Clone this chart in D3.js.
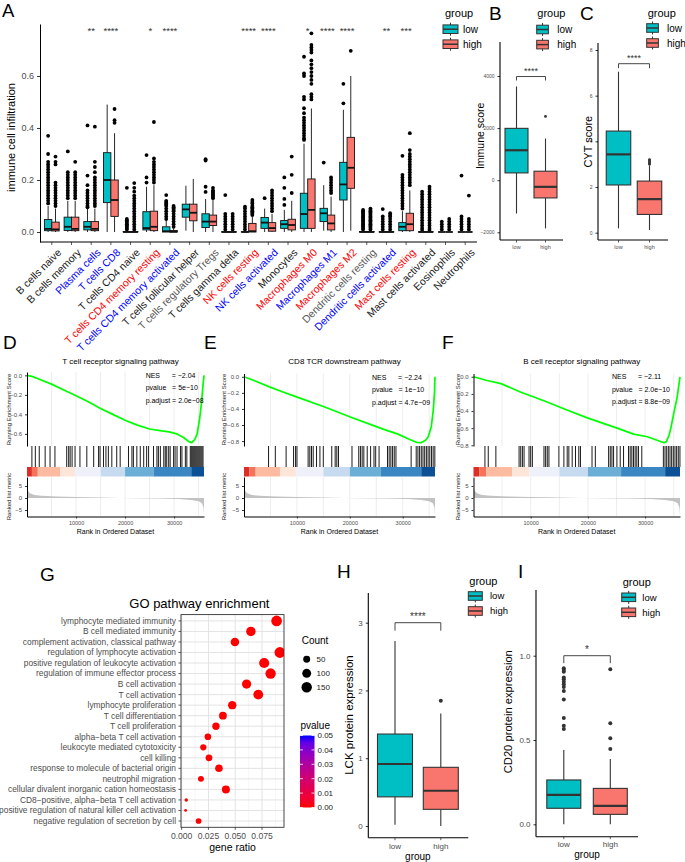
<!DOCTYPE html>
<html><head><meta charset="utf-8">
<script src="https://cdn.jsdelivr.net/npm/d3@7"></script>
<style>body{margin:0;background:#fff}svg{display:block}</style>
</head><body><div id="chart"></div>
<script>
// ---------------- DATA ----------------
const groupNames = ["low", "high"];
const cellTypes = ["B cells naive","B cells memory","Plasma cells","T cells CD8","T cells CD4 naive","T cells CD4 memory resting","T cells CD4 memory activated","T cells follicular helper","T cells regulatory Tregs","T cells gamma delta","NK cells resting","NK cells activated","Monocytes","Macrophages M0","Macrophages M1","Macrophages M2","Dendritic cells resting","Dendritic cells activated","Mast cells resting","Mast cells activated","Eosinophils","Neutrophils"];
const cellHighlight = ["none","none","blue","blue","none","red","blue","none","gray","none","red","blue","none","red","blue","red","gray","blue","red","none","none","none"];
const sigA = ["","","**","****","","*","****","","","","****","****","","*","****","****","","**","***","","",""];
const infTicks = [0, 0.2, 0.4, 0.6];
// [whiskerLow, q1, median, q3, whiskerHigh]
const lowStats = [
[0,0.005,0.012,0.048,0.10],[0,0.006,0.02,0.057,0.12],[0,0.008,0.02,0.04,0.09],[0,0.113,0.2,0.305,0.49],
[0,0,0,0.002,0.004],[0,0.008,0.015,0.078,0.174],[0,0,0.003,0.02,0.045],[0.005,0.057,0.087,0.107,0.178],
[0,0.017,0.04,0.07,0.127],[0,0,0,0.001,0.002],[0,0,0,0.001,0.002],[0,0.014,0.036,0.056,0.09],
[0,0.014,0.03,0.044,0.085],[0,0.014,0.069,0.149,0.34],[0.005,0.04,0.072,0.091,0.18],[0,0.123,0.183,0.268,0.47],
[0,0,0,0.002,0.004],[0,0,0,0.001,0.002],[0,0.005,0.02,0.036,0.08],[0,0,0,0.001,0.002],[0,0,0,0,0],[0,0,0,0,0]];
const highStats = [
[0,0.004,0.01,0.038,0.09],[0,0.005,0.012,0.057,0.12],[0,0.005,0.012,0.04,0.09],[0,0.06,0.123,0.2,0.38],
[0,0,0,0.002,0.004],[0,0.005,0.02,0.08,0.18],[0,0,0.001,0.006,0.014],[0,0.043,0.074,0.107,0.204],
[0,0.025,0.04,0.065,0.123],[0,0,0,0.001,0.002],[0,0,0.003,0.033,0.06],[0,0.003,0.015,0.036,0.07],
[0,0.008,0.027,0.049,0.12],[0,0.014,0.085,0.204,0.475],[0,0.008,0.033,0.065,0.136],[0.005,0.168,0.247,0.364,0.6],
[0,0,0,0.002,0.004],[0,0,0,0.001,0.002],[0,0.005,0.03,0.072,0.16],[0,0,0,0.001,0.002],[0,0,0,0,0],[0,0,0,0,0]];
const lowOut = [
[0.37,0.30,0.27,0.26,0.25,0.24,0.23,0.22,0.21,0.20,0.19,0.18,0.17,0.16,0.15,0.14,0.13,0.12,0.11],
[0.31,0.23,0.22,0.21,0.20,0.19,0.18,0.17,0.16,0.15,0.14,0.13],
[0.41,0.217,0.18,0.16,0.15,0.14,0.13,0.12,0.11,0.10,0.095],
[],
[0.17,0.05,0.045,0.04,0.035,0.03,0.025,0.02,0.015,0.01],
[0.296,0.21,0.19],
[0.142,0.12,0.115,0.11,0.105,0.10,0.09,0.08,0.07,0.06,0.05],
[],
[0.28,0.275,0.174,0.154],
[0.142,0.07,0.06,0.05,0.04,0.03,0.02,0.01],
[0.097,0.09,0.08,0.07,0.06,0.05,0.04,0.03,0.02,0.01],
[0.13],
[0.21,0.17,0.127,0.104],
[0.674,0.61,0.60,0.52,0.51,0.476,0.457,0.44,0.43,0.42,0.41,0.40,0.39,0.38,0.37,0.36,0.354],
[0.267],
[0.57,0.495],
[0.085,0.08,0.075,0.07,0.065,0.06,0.055,0.05,0.045,0.04,0.035,0.03,0.025,0.02,0.015,0.01],
[0.088,0.06,0.05,0.04,0.03,0.02,0.01],
[0.293,0.22,0.21,0.20,0.19,0.18,0.17,0.16,0.15,0.14,0.13,0.12,0.11,0.10,0.09],
[0.155,0.145,0.135,0.125,0.115,0.105,0.095,0.085,0.075,0.065,0.055,0.045,0.035,0.025,0.015,0.008],
[0.04,0.03,0.02,0.01],
[0.217,0.06,0.05,0.04,0.03,0.02,0.01]];
const highOut = [
[0.29,0.27,0.26,0.19,0.18,0.17,0.16,0.15,0.14,0.13,0.12,0.11,0.10],
[0.27,0.23,0.22,0.21,0.20,0.19,0.18,0.17,0.16,0.15,0.14,0.13],
[0.405,0.27,0.25,0.23,0.21,0.20,0.19,0.18,0.17,0.16,0.15,0.14,0.13,0.12,0.11,0.10],
[0.473,0.43,0.42],
[0.188,0.17,0.155,0.14,0.13,0.12,0.11,0.10,0.09,0.08,0.07,0.06,0.05,0.04,0.03,0.02,0.01],
[0.423,0.283,0.27,0.26,0.25,0.24,0.23,0.22,0.21,0.20,0.19],
[0.10,0.095,0.09,0.085,0.08,0.07,0.06,0.05,0.04,0.03,0.02],
[],
[0.17,0.16,0.155,0.15,0.145,0.14,0.135,0.13],
[0.07,0.06,0.05,0.04,0.03,0.02,0.01],
[0.123,0.115,0.11,0.10,0.095,0.09,0.085,0.08,0.075,0.07,0.065],
[0.16,0.15,0.14,0.13,0.12,0.11,0.10,0.09,0.08],
[0.29,0.22,0.15],
[0.764,0.72,0.71,0.70,0.69,0.66,0.645,0.63,0.615,0.60,0.585,0.57,0.53,0.52,0.51],
[0.21,0.20,0.19,0.18,0.17,0.16,0.15],
[0.697],
[0.09,0.085,0.08,0.075,0.07,0.065,0.06,0.055,0.05,0.045,0.04,0.035,0.03,0.025,0.02,0.015,0.01],
[0.072,0.065,0.06,0.05,0.04,0.03,0.02,0.01],
[0.38,0.315,0.30,0.29,0.28,0.27,0.26,0.25,0.24,0.23,0.22,0.21,0.20,0.19,0.18],
[0.174,0.165,0.155,0.145,0.135,0.125,0.115,0.105,0.095,0.085,0.075,0.065,0.055,0.045,0.035,0.025,0.015,0.008],
[0.05,0.04,0.03,0.02,0.01],
[0.14,0.05,0.04,0.03,0.02,0.01]];

// Panel B (Immune score) and C (CYT score)
const immuneTicks = [-2000, 0, 2000, 4000];
const immuneLow = [-1280, 280, 1150, 1990, 3600];
const immuneHigh = [-1850, -680, -255, 345, 1600];
const immuneLowOut = [];
const immuneHighOut = [2450];
const cytTicks = [0, 2, 4, 6, 8];
const cytLow = [0.19, 2.09, 3.43, 4.45, 7.05];
const cytHigh = [0.12, 0.8, 1.47, 2.26, 2.95];
const cytLowOut = [];
const cytHighOut = [3.0, 3.05, 3.1, 3.15, 3.2];

// GSEA panels
const gseaGrid = [5000,10000,15000,20000,25000,30000,35000];
const rankTicks = [10000, 20000, 30000];
const metricTicks = [5, 0, -5];
const esD = [[0,0],[1000,-0.01],[2500,-0.04],[5000,-0.09],[7500,-0.15],[10000,-0.21],[12500,-0.27],[15000,-0.34],[17500,-0.4],[20000,-0.46],[22500,-0.51],[25000,-0.55],[27500,-0.57],[29000,-0.58],[30500,-0.6],[32000,-0.64],[33000,-0.68],[33600,-0.69],[34200,-0.66],[34700,-0.6],[35200,-0.45],[35600,-0.28],[35900,-0.1],[36100,0]];
const esE = [[0,0],[2000,-0.05],[4800,-0.125],[7000,-0.18],[9900,-0.25],[15000,-0.37],[20100,-0.5],[25000,-0.62],[27100,-0.67],[29000,-0.71],[31000,-0.77],[32600,-0.815],[33500,-0.82],[34300,-0.79],[34800,-0.75],[35400,-0.62],[35800,-0.4],[36000,-0.2],[36100,0]];
const esF = [[0,0],[2200,-0.04],[4800,-0.08],[8300,-0.18],[12300,-0.28],[16000,-0.38],[19900,-0.48],[25100,-0.6],[28000,-0.67],[30400,-0.7],[33300,-0.77],[33700,-0.76],[34200,-0.68],[34500,-0.6],[35000,-0.43],[35600,-0.24],[36100,0]];
const hitsD = [1000,1700,2500,3700,4700,5700,8100,8500,8800,9200,9800,10800,12200,13600,14600,14900,15600,16100,16600,17300,18300,19000,20700,21400,21700,22400,23100,23800,24400,24800,25800,26500,26800,27200,27900,28200,28500,28900,29200,29900,30200,30600,31300,31600,32300,32600,33300,33500,33700,33900,34100,34300,34500,34700,34900,35100,35300,35500,35700,35900];
const hitsE = [4640,5920,7960,9370,9750,10010,12120,12440,12760,13080,13710,14350,14990,16590,17230,17540,17860,20410,21690,22010,22330,22650,23290,23930,24570,24890,25530,27120,27440,27760,28080,28400,28720,31590,32550,32870,33190,33510,33830,34150,34470,34790,35110,35430,35750,36070];
const hitsF = [2000,2580,3910,7970,8260,8550,8840,9710,10000,10290,12320,12610,12900,13190,14930,15800,16380,16670,17250,17830,18410,18700,20720,21300,23620,23910,24200,24490,25070,25650,26230,27100,27390,27680,27970,28260,28550,28840,29420,33190,33480,33770,34060,34350,34640,34930,35220,35510,35800,36090];
const metricPts = [[0,4.5],[200,3],[600,2],[1500,1.3],[3000,0.9],[6000,0.6],[10000,0.4],[15000,0.2],[19000,0.05],[22000,-0.05],[27000,-0.2],[31000,-0.45],[33500,-0.8],[35000,-1.3],[35700,-2.2],[36000,-4],[36100,-7]];
const bandBreaks = [0,1000,2200,6800,9800,15000,20000,25800,33500,36100];
const bandColors = ["#de2d26","#f4735a","#fcbba1","#fee5d9","#eef1fa","#c6dbef","#6baed6","#3a86c2","#0b4f94"];
const nesD = ["−2.04","5e−10","2.0e−08"];
const nesE = ["−2.24","1e−10","4.7e−09"];
const nesF = ["−2.11","2.0e−10","8.8e−09"];

// GO enrichment
const goTerms = ["lymphocyte mediated immunity","B cell mediated immunity","complement activation, classical pathway","regulation of lymphocyte activation","positive regulation of leukocyte activation","regulation of immune effector process","B cell activation","T cell activation","lymphocyte proliferation","T cell differentiation","T cell proliferation","alpha−beta T cell activation","leukocyte mediated cytotoxicity","cell killing","response to molecule of bacterial origin","neutrophil migration","cellular divalent inorganic cation homeostasis","CD8−positive, alpha−beta T cell activation","positive regulation of natural killer cell activation","negative regulation of secretion by cell"];
const goRatio = [0.0886,0.0646,0.0497,0.0917,0.0770,0.0830,0.0606,0.0715,0.0472,0.0385,0.0320,0.0245,0.0202,0.0255,0.0348,0.0180,0.0413,0.0043,0.0037,0.0158];
const goCount = [160,116,90,165,139,150,109,129,85,69,58,44,36,46,63,32,74,8,7,28];
const goPvalue = [1e-30,1e-25,1e-22,1e-28,1e-24,1e-26,1e-21,1e-23,1e-18,1e-15,1e-14,1e-12,1e-11,1e-12,1e-13,1e-10,1e-12,1e-6,1e-6,1e-8];
const goXTicks = [0, 0.025, 0.05, 0.075];
const goXMinor = [0.0125, 0.0375, 0.0625, 0.0875];
const countBreaks = [50, 100, 150];
const pvalueBreaks = [0.05, 0.04, 0.03, 0.02, 0.01, 0.00];

// Panel H (LCK) and I (CD20)
const lckTicks = [0, 1, 2, 3];
const lckLow = [0.02, 0.43, 0.915, 1.357, 2.73];
const lckHigh = [0, 0.246, 0.52, 0.866, 1.66];
const lckLowOut = [];
const lckHighOut = [1.85];
const cd20Ticks = [0, 0.5, 1.0];
const cd20Low = [0, 0.095, 0.174, 0.263, 0.44];
const cd20High = [0, 0.059, 0.109, 0.213, 0.387];
const cd20LowOut = [0.925,0.915,0.905,0.87,0.86,0.845,0.83,0.815,0.79,0.74,0.63,0.585,0.565];
const cd20HighOut = [0.92, 0.60, 0.51, 0.447];

// ---------------- DRAWING ----------------
const W = 685, H = 862;
const FONT = '"Liberation Sans", Arial, Helvetica, sans-serif';
const LOW = "#00BFC4", HIGH = "#F8766D";
const svg = d3.select("#chart").append("svg").attr("width", W).attr("height", H)
  .style("font-family", FONT);
svg.append("rect").attr("width", W).attr("height", H).attr("fill", "#fff");

function txt(g, x, y, s, o = {}) {
  const t = g.append("text").attr("x", x).attr("y", y).text(s)
    .attr("font-size", o.fs || 10).attr("fill", o.fill || "#000")
    .attr("text-anchor", o.anchor || "start");
  if (o.dy) t.attr("dy", o.dy);
  if (o.rot !== undefined) t.attr("transform", `rotate(${o.rot},${x},${y})`);
  return t;
}
function line(g, x1, y1, x2, y2, stroke, sw) {
  return g.append("line").attr("x1", x1).attr("y1", y1).attr("x2", x2).attr("y2", y2)
    .attr("stroke", stroke || "#000").attr("stroke-width", sw || 1);
}
function styleAxis(a, fs, fill, domainStroke, tickStroke, dsw) {
  a.attr("font-family", FONT).attr("font-size", fs);
  a.select(".domain").attr("stroke", domainStroke || "#000").attr("stroke-width", dsw || 1);
  a.selectAll(".tick line").attr("stroke", tickStroke || "#333");
  a.selectAll(".tick text").attr("fill", fill || "#4d4d4d");
}
function drawBox(g, xc, w, s, outs, y, fill, o) {
  const [wlo, q1, med, q3, whi] = s;
  g.selectAll(null).data(outs).enter().append("circle")
    .attr("cx", xc).attr("cy", d => y(d)).attr("r", o.r).attr("fill", o.dot);
  line(g, xc, y(whi), xc, y(q3), o.stroke, o.sw);
  line(g, xc, y(q1), xc, y(wlo), o.stroke, o.sw);
  g.append("rect").attr("x", xc - w / 2).attr("y", y(q3)).attr("width", w)
    .attr("height", Math.max(0, y(q1) - y(q3))).attr("fill", fill)
    .attr("stroke", o.stroke).attr("stroke-width", o.sw);
  line(g, xc - w / 2, y(med), xc + w / 2, y(med), o.stroke, o.msw);
}
function groupLegend(tx, ty, kx, kw, cys, lx, fsT, fsL) {
  txt(svg, tx, ty, "group", { fs: fsT });
  [LOW, HIGH].forEach((c, i) => {
    const cy = cys[i];
    line(svg, kx + kw / 2, cy - 6.5, kx + kw / 2, cy + 6.5, "#333", 1);
    svg.append("rect").attr("x", kx).attr("y", cy - 4.3).attr("width", kw).attr("height", 8.6)
      .attr("fill", c).attr("stroke", "#333").attr("stroke-width", 1);
    line(svg, kx, cy, kx + kw, cy, "#333", 1.5);
    txt(svg, lx, cy, groupNames[i], { fs: fsL, dy: "0.35em" });
  });
}
function letter(t, x, y) { txt(svg, x, y, t, { fs: 19 }); }

// ===== Panel A =====
txt(svg, 2, 17, "A", { fs: 18.5 });
const yA = d3.scaleLinear().domain([-0.0385, 0.8]).range([242, 24]);
const xA = d3.scaleBand().domain(cellTypes).range([40, 477]).paddingOuter(0.1);
const gA = svg.append("g");
const bwA = xA.step() * 0.375;
const hlColor = { none: "#1a1a1a", blue: "#0000ff", red: "#ff0000", gray: "#595959" };
cellTypes.forEach((c, i) => {
  const xc = xA(c) + xA.bandwidth() / 2;
  const st = { stroke: "#111", sw: 0.9, msw: 1.8, r: 1.9, dot: "#000" };
  drawBox(gA, xc - bwA / 2, bwA, lowStats[i], lowOut[i], yA, LOW, st);
  drawBox(gA, xc + bwA / 2, bwA, highStats[i], highOut[i], yA, HIGH, st);
  if (sigA[i]) txt(gA, xc, 34, sigA[i], { fs: 9.5, anchor: "middle", fill: "#333" });
  line(gA, xc, 242, xc, 245, "#333", 0.8);
  gA.append("text").attr("transform", `translate(${xc + 5},${248}) rotate(-45)`)
    .attr("text-anchor", "end").attr("dy", "0.7em").attr("font-size", 10.5)
    .attr("fill", hlColor[cellHighlight[i]]).text(c);
});
const ayA = gA.append("g").attr("transform", "translate(40,0)")
  .call(d3.axisLeft(yA).tickValues(infTicks).tickFormat(d3.format(".1f")).tickSize(3).tickSizeOuter(0));
styleAxis(ayA, 9, "#4d4d4d");
line(gA, 40, 242, 477, 242, "#000", 1);
txt(gA, 11.5, 137.5, "immune cell infiltration", { fs: 11, anchor: "middle", rot: -90, dy: "0.35em" });
groupLegend(445, 17.2, 443, 15, [29.2, 44.2], 463, 11, 10);

// ===== Panel B =====
letter("B", 489, 20);
function smallBox(cfg) {
  const g = svg.append("g");
  const y = d3.scaleLinear().domain(cfg.dom).range(cfg.rng);
  const x = d3.scalePoint().domain(groupNames).range([cfg.c0, cfg.c1]);
  const st = { stroke: "#333", sw: cfg.sw || 1, msw: cfg.msw || 2, r: cfg.r, dot: "#333" };
  drawBox(g, x("low"), cfg.bw, cfg.low, cfg.lowOut, y, LOW, st);
  drawBox(g, x("high"), cfg.bw, cfg.high, cfg.highOut, y, HIGH, st);
  const ay = g.append("g").attr("transform", `translate(${cfg.ax},0)`)
    .call(d3.axisLeft(y).tickValues(cfg.ticks).tickFormat(cfg.fmt).tickSize(2.5).tickSizeOuter(0));
  styleAxis(ay, cfg.tfs, "#4d4d4d", "#000", "#333", 1.1);
  ay.select(".domain").remove();
  line(g, cfg.ax, cfg.top, cfg.ax, cfg.bottom, "#000", 1.1);
  line(g, cfg.ax, cfg.bottom, cfg.right, cfg.bottom, "#000", 1.1);
  groupNames.forEach(n => {
    line(g, x(n), cfg.bottom, x(n), cfg.bottom + 2.5, "#333", 0.8);
    txt(g, x(n), cfg.xly, n, { fs: cfg.xfs, anchor: "middle", fill: "#4d4d4d" });
  });
  const yb = y(cfg.br);
  g.append("path").attr("d", `M${x("low")},${yb + cfg.drop}V${yb}H${x("high")}V${yb + cfg.drop}`)
    .attr("fill", "none").attr("stroke", "#333").attr("stroke-width", 0.9);
  txt(g, (x("low") + x("high")) / 2, yb - 2.5, cfg.sig, { fs: cfg.sfs, anchor: "middle", fill: "#333" });
  txt(g, cfg.ylx, cfg.yly, cfg.ylab, { fs: cfg.yfs, anchor: "middle", rot: -90, dy: "0.35em" });
  if (cfg.xtitle) txt(g, (x("low") + x("high")) / 2, cfg.xty, cfg.xtitle, { fs: cfg.xtfs, anchor: "middle" });
  return g;
}
smallBox({ dom: [-2000, 4000], rng: [232.3, 76], c0: 516.5, c1: 545.5, bw: 23, low: immuneLow, high: immuneHigh,
  lowOut: immuneLowOut, highOut: immuneHighOut, r: 1.4, ax: 500, top: 42, bottom: 240, right: 563,
  ticks: immuneTicks, fmt: d3.format("d"), tfs: 5, xly: 248.5, xfs: 5.5, br: 3980, drop: 4, sig: "****", sfs: 9,
  ylx: 480, yly: 135.8, ylab: "Immune score", yfs: 10.5, sw: 1.1, msw: 2.2 });
groupLegend(537.3, 17.2, 536.7, 11.7, [29.5, 44.6], 557.3, 11, 10);

// ===== Panel C =====
letter("C", 580, 20);
smallBox({ dom: [0, 8], rng: [232.7, 50], c0: 618.5, c1: 649.5, bw: 24.5, low: cytLow, high: cytHigh,
  lowOut: cytLowOut, highOut: cytHighOut, r: 1.4, ax: 598, top: 43, bottom: 240, right: 668,
  ticks: cytTicks, fmt: d3.format("d"), tfs: 5, xly: 248.5, xfs: 5.5, br: 7.4, drop: 4.5, sig: "****", sfs: 9,
  ylx: 588.3, yly: 141.7, ylab: "CYT score", yfs: 11, sw: 1.1, msw: 2.2 });
groupLegend(647.7, 17.2, 646.7, 11.7, [28, 43], 667, 11, 10);

// ===== GSEA panels D,E,F =====
function gsea(cfg) {
  const g = svg.append("g");
  const x = d3.scaleLinear().domain([0, 36100]).range([cfg.x0, cfg.x1]);
  const esMin = d3.min(cfg.es, d => d[1]);
  const span = -esMin;
  const y = d3.scaleLinear().domain([esMin - 0.05 * span, 0.05 * span]).range([446, cfg.top]);
  const ym = d3.scaleLinear().domain([-7.7, 8.75]).range([516.5, 477]);
  gseaGrid.forEach(v => {
    line(g, x(v), cfg.top, x(v), 446, "#ebebeb", 0.9);
    line(g, x(v), 477, x(v), 516.5, "#ebebeb", 0.9);
  });
  g.append("path").datum(metricPts).attr("fill", "#c2c2c2")
    .attr("d", d3.area().x(d => x(d[0])).y0(ym(0)).y1(d => ym(d[1])));
  g.append("path").datum(cfg.es).attr("fill", "none").attr("stroke", "#00ff00").attr("stroke-width", 1.7)
    .attr("stroke-linejoin", "round")
    .attr("d", d3.line().x(d => x(d[0])).y(d => y(d[1])));
  g.selectAll(null).data(cfg.hits).enter().append("line")
    .attr("x1", d => x(d)).attr("x2", d => x(d)).attr("y1", 446).attr("y2", 467)
    .attr("stroke", "#000").attr("stroke-width", 0.9);
  bandColors.forEach((c, i) => {
    g.append("rect").attr("x", x(bandBreaks[i])).attr("y", 467)
      .attr("width", x(bandBreaks[i + 1]) - x(bandBreaks[i])).attr("height", 9.5).attr("fill", c);
  });
  const ay = g.append("g").attr("transform", `translate(${cfg.x0},0)`)
    .call(d3.axisLeft(y).tickValues(cfg.esTicks).tickFormat(d3.format(".1f")).tickSize(2).tickSizeOuter(0));
  styleAxis(ay, 6, "#4d4d4d", "#000", "#333", 1);
  const am = g.append("g").attr("transform", `translate(${cfg.x0},0)`)
    .call(d3.axisLeft(ym).tickValues(metricTicks).tickFormat(d3.format("d")).tickSize(2).tickSizeOuter(0));
  styleAxis(am, 6, "#4d4d4d", "#000", "#333", 1);
  const axb = g.append("g").attr("transform", `translate(0,516.5)`)
    .call(d3.axisBottom(x).tickValues(rankTicks).tickFormat(d3.format("d")).tickSize(2).tickSizeOuter(0));
  styleAxis(axb, 5.5, "#4d4d4d", "#000", "#333", 1);
  txt(g, (cfg.x0 + cfg.x1) / 2, 534, "Rank in Ordered Dataset", { fs: 7, anchor: "middle" });
  txt(g, cfg.ylx, 409.5, "Running Enrichment Score", { fs: 6, anchor: "middle", rot: -90, dy: "0.35em", fill: "#1a1a1a" });
  txt(g, cfg.ylx, 496.5, "Ranked list metric", { fs: 6, anchor: "middle", rot: -90, dy: "0.35em", fill: "#1a1a1a" });
  txt(g, (cfg.x0 + cfg.x1) / 2 + 5, 363.5, cfg.title, { fs: 8, anchor: "middle" });
  const cid = "clip" + cfg.letter;
  svg.append("clipPath").attr("id", cid).append("rect")
    .attr("x", cfg.x0).attr("y", 360).attr("width", cfg.x1 - cfg.x0).attr("height", 90);
  const gn = g.append("g").attr("clip-path", `url(#${cid})`);
  const nb = "\u00a0";
  const lines = ["NES" + nb.repeat(6) + "= " + cfg.nes[0], "pvalue" + nb.repeat(3) + "= " + cfg.nes[1], "p.adjust" + nb + "= " + cfg.nes[2]];
  lines.forEach((s, i) => txt(gn, x(24200), cfg.nesY + i * 12.5, s, { fs: 7, dy: "0.35em" }));
  letter(cfg.letter, cfg.lx, 349);
}
gsea({ letter: "D", lx: 3, x0: 27, x1: 204, top: 372, es: esD, hits: hitsD, esTicks: [0, -0.2, -0.4, -0.6],
  title: "T cell receptor signaling pathway", nes: nesD, nesY: 375.5, ylx: 8.8 });
gsea({ letter: "E", lx: 204, x0: 244, x1: 435, top: 373.5, es: esE, hits: hitsE, esTicks: [0, -0.2, -0.4, -0.6, -0.8],
  title: "CD8 TCR downstream pathway", nes: nesE, nesY: 377.5, ylx: 224 });
gsea({ letter: "F", lx: 442, x0: 473.5, x1: 680, top: 373.5, es: esF, hits: hitsF, esTicks: [0, -0.2, -0.4, -0.6, -0.8],
  title: "B cell receptor signaling pathway", nes: nesF, nesY: 377, ylx: 457.5 });

// ===== Panel G =====
letter("G", 40, 580.5);
const gG = svg.append("g");
const xG = d3.scaleLinear().domain([-0.0006, 0.0955]).range([181, 284]);
const yG = d3.scalePoint().domain(goTerms).range([620.9, 821]);
const gTop = 614.6, gBot = 827.3;
const cMin = d3.min(goCount), cMax = d3.max(goCount);
const rG = d3.scaleLinear().domain([0, 1]).range([1.4, 5.4]);
const rCount = c => rG(Math.sqrt(Math.max(0, (c - cMin) / (cMax - cMin))));
const pColor = d3.scaleLinear().domain([0, 0.05]).range(["#ff0000", "#0000ff"]).interpolate(d3.interpolateLab);
svg.append("clipPath").attr("id", "clipG").append("rect").attr("x", 181).attr("y", gTop).attr("width", 103).attr("height", gBot - gTop);
goXMinor.forEach(v => line(gG, xG(v), gTop, xG(v), gBot, "#f0f0f0", 0.6));
goXTicks.forEach(v => line(gG, xG(v), gTop, xG(v), gBot, "#e3e3e3", 1));
goTerms.forEach(t => line(gG, 181, yG(t), 284, yG(t), "#e3e3e3", 1));
const gDots = gG.append("g").attr("clip-path", "url(#clipG)");
gDots.selectAll("circle").data(goTerms).enter().append("circle")
  .attr("cx", (d, i) => xG(goRatio[i])).attr("cy", d => yG(d))
  .attr("r", (d, i) => rCount(goCount[i])).attr("fill", (d, i) => pColor(goPvalue[i]));
gG.append("rect").attr("x", 181).attr("y", gTop).attr("width", 103).attr("height", gBot - gTop)
  .attr("fill", "none").attr("stroke", "#333").attr("stroke-width", 0.9);
goTerms.forEach(t => {
  line(gG, 178.5, yG(t), 181, yG(t), "#333", 0.8);
  txt(gG, 176, yG(t), t, { fs: 8.4, anchor: "end", dy: "0.35em", fill: "#4d4d4d" });
});
goXTicks.forEach(v => {
  line(gG, xG(v), gBot, xG(v), gBot + 2.5, "#333", 0.8);
  txt(gG, xG(v), 839, d3.format(".3f")(v), { fs: 8.6, anchor: "middle", fill: "#4d4d4d" });
});
txt(gG, 232.5, 850.5, "gene ratio", { fs: 10.5, anchor: "middle" });
txt(gG, 129.3, 607.8, "GO pathway enrichment", { fs: 13 });
txt(gG, 301.7, 643.5, "Count", { fs: 10 });
countBreaks.forEach((c, i) => {
  const cy = 659.3 + i * 14;
  gG.append("circle").attr("cx", 306.7).attr("cy", cy).attr("r", rCount(c)).attr("fill", "#000");
  txt(gG, 316.5, cy, String(c), { fs: 8, dy: "0.35em", fill: "#1a1a1a" });
});
txt(gG, 300.5, 728.5, "pvalue", { fs: 10 });
const grad = svg.append("defs").append("linearGradient").attr("id", "pgrad")
  .attr("x1", 0).attr("y1", 1).attr("x2", 0).attr("y2", 0);
d3.range(0, 1.0001, 0.1).forEach(t => grad.append("stop").attr("offset", t).attr("stop-color", pColor(t * 0.05)));
const yP = d3.scaleLinear().domain([0, 0.05]).range([807.5, 735.5]);
gG.append("rect").attr("x", 300).attr("y", yP(0.05)).attr("width", 14.5).attr("height", yP(0) - yP(0.05)).attr("fill", "url(#pgrad)");
pvalueBreaks.forEach(v => {
  line(gG, 300, yP(v), 303, yP(v), "#fff", 0.8);
  line(gG, 311.5, yP(v), 314.5, yP(v), "#fff", 0.8);
  txt(gG, 317.5, yP(v), d3.format(".2f")(v), { fs: 8, dy: "0.35em", fill: "#1a1a1a" });
});

// ===== Panel H =====
letter("H", 337, 578);
smallBox({ dom: [0, 3], rng: [826, 622.7], c0: 395, c1: 440.8, bw: 35, low: lckLow, high: lckHigh,
  lowOut: lckLowOut, highOut: lckHighOut, r: 2, ax: 368.3, top: 593, bottom: 837.7, right: 468.3,
  ticks: lckTicks, fmt: d3.format("d"), tfs: 8, xly: 849, xfs: 8, br: 3.0, drop: 8, sig: "****", sfs: 10,
  ylx: 349.2, yly: 715, ylab: "LCK protein expression", yfs: 11.5, xtitle: "group", xty: 859.5, xtfs: 10, sw: 1.1, msw: 2.2 });
groupLegend(469.3, 584.7, 468.3, 14, [596, 611], 490, 11, 9.5);

// ===== Panel I =====
letter("I", 518, 578);
smallBox({ dom: [0, 1], rng: [824.3, 655.7], c0: 563.8, c1: 610.3, bw: 34, low: cd20Low, high: cd20High,
  lowOut: cd20LowOut, highOut: cd20HighOut, r: 2, ax: 536, top: 590, bottom: 836.7, right: 638,
  ticks: cd20Ticks, fmt: d3.format(".1f"), tfs: 8, xly: 847.3, xfs: 8, br: 1.0, drop: 7.5, sig: "*", sfs: 10,
  ylx: 508.3, yly: 711.7, ylab: "CD20 protein expression", yfs: 11.2, xtitle: "group", xty: 858, xtfs: 10, sw: 1.1, msw: 2.2 });
groupLegend(622.7, 585.7, 621.7, 14, [597.3, 612.3], 642.3, 11, 9.5);
</script></body></html>
